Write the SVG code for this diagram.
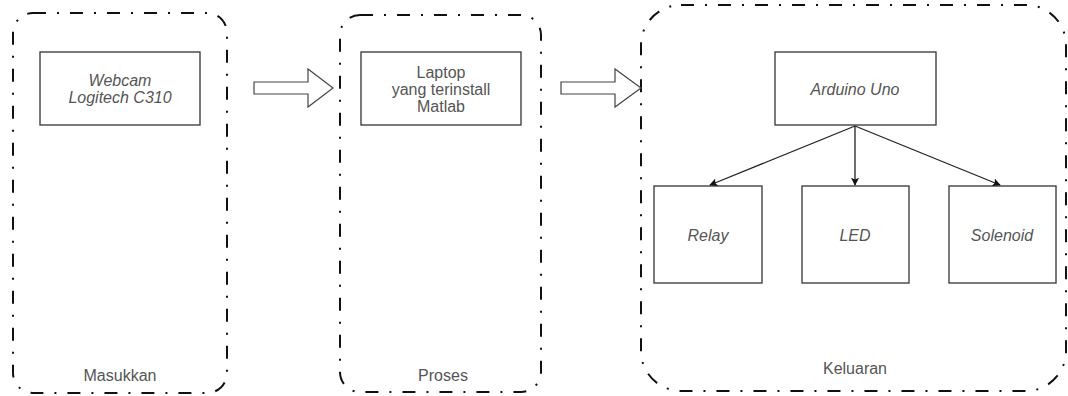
<svg xmlns="http://www.w3.org/2000/svg" width="1068" height="396" viewBox="0 0 1068 396">
<defs>
<style>
.grp{fill:none;stroke:#111;stroke-width:2;stroke-dasharray:13 11 2 11}
.box{fill:#fff;stroke:#333;stroke-width:1.3}
.t{font-family:"Liberation Sans",Arial,sans-serif;font-size:16px;fill:#555;text-anchor:middle}
.i{font-style:italic}
.edge{fill:none;stroke:#222;stroke-width:1.3}
.barrow{fill:#fff;stroke:#444;stroke-width:1.2}
</style>
<marker id="ah" viewBox="0 0 10 10" refX="9" refY="5" markerWidth="8" markerHeight="8" orient="auto" markerUnits="userSpaceOnUse">
<path d="M0,0 L10,5 L0,10 L2,5 Z" fill="#111"/>
</marker>
</defs>
<rect width="1068" height="396" fill="#fff"/>
<g id="masukkan">
<rect class="grp" x="13" y="13" width="214" height="380" rx="20" ry="20"/>
<text class="t" x="120" y="381">Masukkan</text>
</g>
<g id="proses">
<rect class="grp" x="340" y="15" width="201" height="377" rx="20" ry="20"/>
<text class="t" x="443" y="381">Proses</text>
</g>
<g id="keluaran">
<rect class="grp" x="641" y="5" width="425" height="386" rx="40" ry="40"/>
<text class="t" x="855" y="374">Keluaran</text>
</g>
<g id="webcam">
<rect class="box" x="40" y="52" width="160" height="73"/>
<text class="t i" x="120" y="86">Webcam</text>
<text class="t i" x="120" y="103">Logitech C310</text>
</g>
<g id="laptop">
<rect class="box" x="361" y="52" width="160" height="73"/>
<text class="t" x="441" y="78">Laptop</text>
<text class="t" x="441" y="95">yang terinstall</text>
<text class="t" x="441" y="112">Matlab</text>
</g>
<g id="arduino">
<rect class="box" x="775" y="52" width="161" height="73"/>
<text class="t i" x="855" y="95">Arduino Uno</text>
</g>
<g id="relay">
<rect class="box" x="654" y="186" width="108" height="97"/>
<text class="t i" x="708" y="241">Relay</text>
</g>
<g id="led">
<rect class="box" x="802" y="186" width="107" height="97"/>
<text class="t i" x="855" y="241">LED</text>
</g>
<g id="solenoid">
<rect class="box" x="949" y="186" width="107" height="97"/>
<text class="t i" x="1002" y="241">Solenoid</text>
</g>
<g id="connectors">
<path class="barrow" d="M254,82 H308 V69 L333,88 L308,107 V94 H254 Z"/>
<path class="barrow" d="M561,82 H615 V69 L641,88 L615,107 V94 H561 Z"/>
<line class="edge" x1="855" y1="126" x2="710" y2="185" marker-end="url(#ah)"/>
<line class="edge" x1="855" y1="126" x2="855" y2="185" marker-end="url(#ah)"/>
<line class="edge" x1="855" y1="126" x2="1000" y2="185" marker-end="url(#ah)"/>
</g>
</svg>
